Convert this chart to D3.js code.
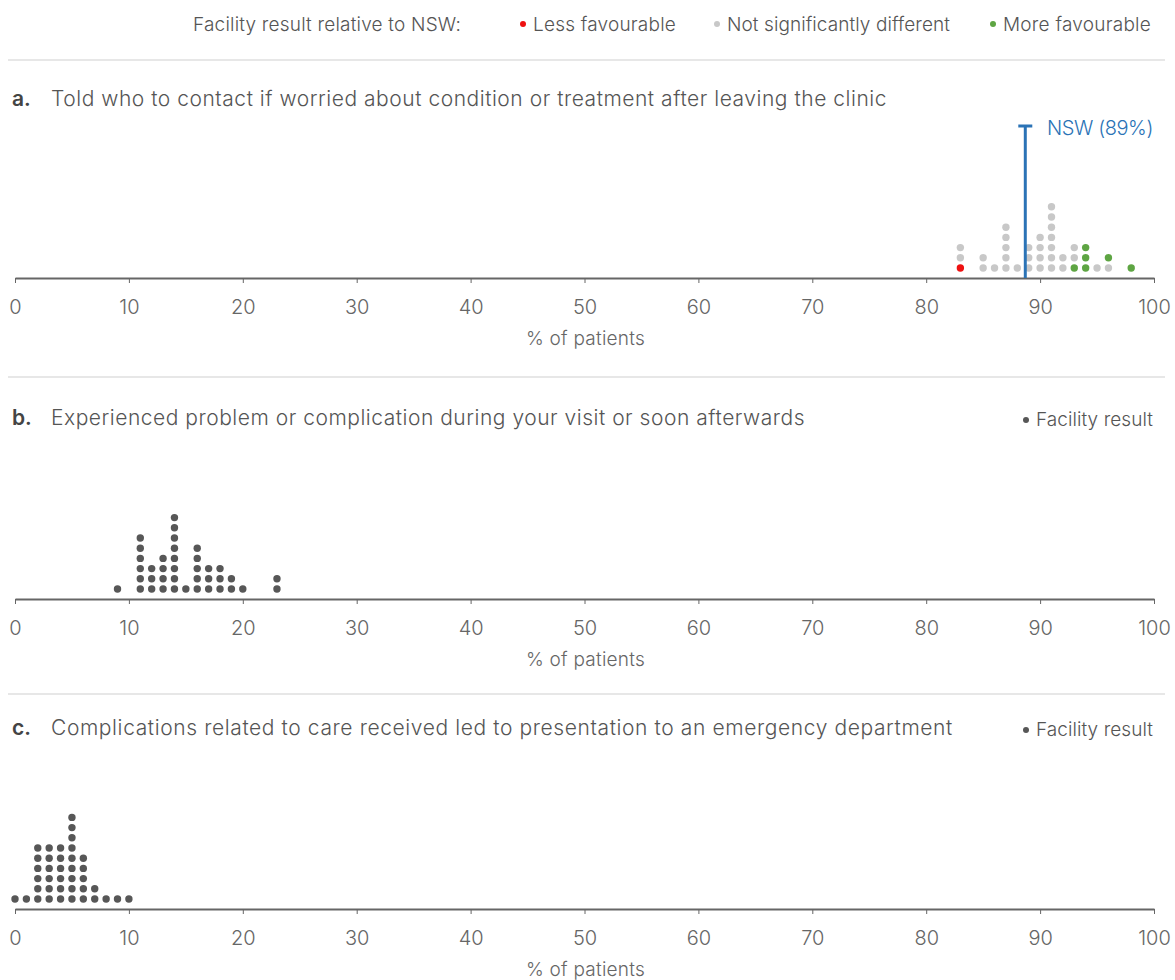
<!DOCTYPE html>
<html><head><meta charset="utf-8">
<script src="https://cdn.jsdelivr.net/npm/d3@7"></script>
<style>
html,body{margin:0;padding:0;background:#fff;}
svg{display:block;font-family:Inter,"Liberation Sans",Arial,sans-serif;font-weight:300;}
</style></head>
<body><svg id="chart" width="1175" height="980"></svg>
<script>
// ---- data ----
const xTicks = [0,10,20,30,40,50,60,70,80,90,100];
const legendTitle = "Facility result relative to NSW:";
const legendLabels = ["Less favourable","Not significantly different","More favourable"];
const legendKeys = ["less","ns","more"];
const titles = [
  "Told who to contact if worried about condition or treatment after leaving the clinic",
  "Experienced problem or complication during your visit or soon afterwards",
  "Complications related to care received led to presentation to an emergency department"
];
const panelLetters = ["a.","b.","c."];
const axisTitle = "% of patients";
const facilityLabel = "Facility result";
const nswValue = 88.7;
const nswLabel = "NSW (89%)";
// panel a: each bin, statuses stacked bottom to top
const aBins = [83,85,86,87,88,89,90,91,92,93,94,95,96,98];
const aStacks = [
  ["less","ns","ns"],["ns","ns"],["ns"],["ns","ns","ns","ns","ns"],["ns"],["ns","ns","ns"],
  ["ns","ns","ns","ns"],["ns","ns","ns","ns","ns","ns","ns"],["ns","ns"],["more","ns","ns"],
  ["more","more","more"],["ns"],["ns","more"],["more"]
];
const bBins = [9,11,12,13,14,15,16,17,18,19,20,23];
const bCounts = [1,6,3,4,8,1,5,3,3,2,1,2];
const cBins = [0,1,2,3,4,5,6,7,8,9,10];
const cCounts = [1,1,6,6,6,9,5,2,1,1,1];

// ---- styles / layout ----
const colors = {less:"#ee1111", ns:"#c8c8c8", more:"#5ea543", facility:"#575757"};
const textCol = "#555";
const svg = d3.select("#chart");
const x = d3.scaleLinear().domain([0,100]).range([15,1154]);

// stretch a text (by letter spacing) to a target width
function fit(sel, target) {
  const n = sel.text().length;
  const w = sel.node().getComputedTextLength();
  sel.attr("letter-spacing", ((target - w) / n).toFixed(3));
  return sel;
}

// legend
const leg = svg.append("g");
fit(leg.append("text").attr("x",193).attr("y",31).attr("font-size",19).attr("fill",textCol).text(legendTitle), 268);
const legX = [523, 717, 993];
const legW = [143, 223, 148];
legendKeys.forEach((k,i)=>{
  leg.append("circle").attr("cx",legX[i]).attr("cy",24).attr("r",3).attr("fill",colors[k]);
  fit(leg.append("text").attr("x",legX[i]+10).attr("y",31).attr("font-size",19).attr("fill",textCol).text(legendLabels[i]), legW[i]);
});

// separators
[60,377,694].forEach(y=>{
  svg.append("line").attr("x1",8).attr("x2",1165).attr("y1",y).attr("y2",y)
    .attr("stroke","#d0d0d0").attr("stroke-width",1.2);
});

const panels = [
  {axisY:278, titleY:106, titleW:836, dots: aBins.flatMap((b,i)=>aStacks[i].map((s,j)=>({v:b,k:j,c:colors[s]})))},
  {axisY:599, titleY:425, titleW:754, dots: bBins.flatMap((b,i)=>d3.range(bCounts[i]).map(j=>({v:b,k:j,c:colors.facility}))), facility:true},
  {axisY:909, titleY:735, titleW:902, dots: cBins.flatMap((b,i)=>d3.range(cCounts[i]).map(j=>({v:b,k:j,c:colors.facility}))), facility:true}
];

panels.forEach((p,pi)=>{
  const g = svg.append("g");
  // title
  g.append("text").attr("x",12).attr("y",p.titleY).attr("font-size",21).attr("font-weight",600)
    .attr("fill","#444").text(panelLetters[pi]);
  fit(g.append("text").attr("x",51).attr("y",p.titleY).attr("font-size",21).attr("fill",textCol).text(titles[pi]), p.titleW);
  if (p.facility) {
    fit(g.append("text").attr("x",1036).attr("y",p.titleY+1).attr("font-size",19).attr("fill",textCol).text(facilityLabel), 117);
    g.append("circle").attr("cx",1026).attr("cy",p.titleY-5).attr("r",3).attr("fill",colors.facility);
  }
  // stack scale
  const y = d3.scaleLinear().domain([0,10]).range([p.axisY-10, p.axisY-112]);
  // axis
  const ax = g.append("g").attr("transform",`translate(0,${p.axisY})`)
    .call(d3.axisBottom(x).tickValues(xTicks).tickSize(5).tickPadding(17).tickSizeOuter(0));
  ax.select(".domain").attr("stroke","#666").attr("stroke-width",2);
  ax.selectAll(".tick line").attr("stroke","#666").attr("stroke-width",1);
  ax.selectAll(".tick text").attr("font-size",20).attr("fill","#666")
    .attr("font-family","Inter,\"Liberation Sans\",Arial,sans-serif").attr("font-weight",300);
  const at = g.append("text").attr("x",526).attr("y",p.axisY+67)
    .attr("font-size",19).attr("fill","#666").text(axisTitle);
  fit(at, 119);
  // dots
  g.selectAll("circle.dot").data(p.dots).enter().append("circle").attr("class","dot")
    .attr("cx",d=>x(d.v)).attr("cy",d=>y(d.k)).attr("r",3.7).attr("fill",d=>d.c);
  if (pi===0) {
    const nx = x(nswValue);
    g.append("line").attr("x1",nx).attr("x2",nx).attr("y1",125).attr("y2",p.axisY)
      .attr("stroke","#2b73b6").attr("stroke-width",3);
    g.append("line").attr("x1",nx-7).attr("x2",nx+7).attr("y1",126).attr("y2",126)
      .attr("stroke","#2b73b6").attr("stroke-width",3);
    fit(g.append("text").attr("x",1047).attr("y",135).attr("font-size",20).attr("fill","#2b73b6").text(nswLabel), 106);
  }
});
</script></body></html>
